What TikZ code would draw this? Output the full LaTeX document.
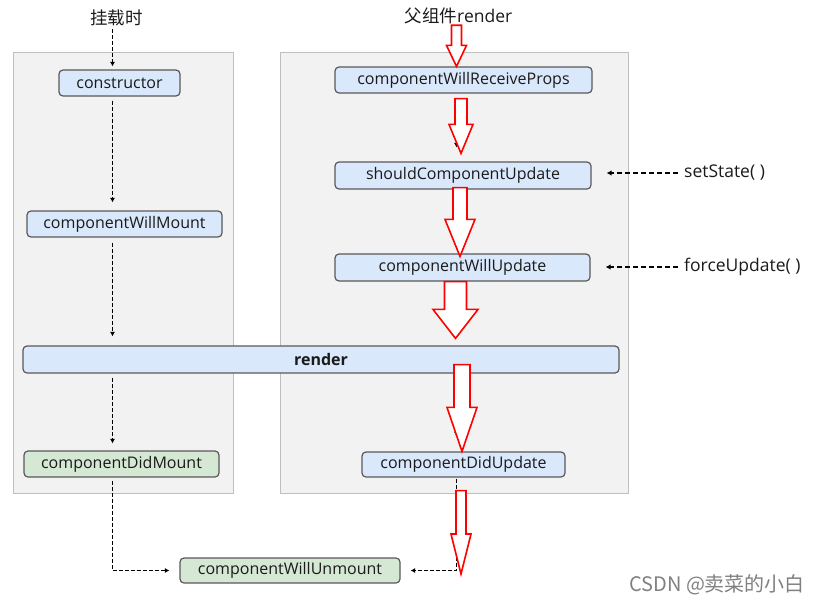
\documentclass[tikz,border=0pt]{standalone}
\usepackage{fontspec}
\setmainfont{Open Sans}
\newfontfamily\cjk{Noto Sans CJK SC}
\usetikzlibrary{calc,arrows.meta}

\definecolor{panelgray}{HTML}{F2F2F2}
\definecolor{paneledge}{HTML}{BFBFBF}
\definecolor{boxblue}{HTML}{DAE8FC}
\definecolor{boxgreen}{HTML}{D5E8D4}
\definecolor{boxedge}{HTML}{595959}
\definecolor{inktext}{HTML}{1A1A1A}

\tikzset{
  panel/.style={rectangle, draw=paneledge, fill=panelgray, line width=1pt},
  hook/.style={rectangle, rounded corners=4pt, draw=boxedge, line width=1.2pt, fill=boxblue, text=inktext, font=\fontsize{16}{19}\selectfont, inner sep=0pt},
  hookdone/.style={hook, fill=boxgreen},
  caption/.style={text=inktext, font=\fontsize{17.5}{21}\selectfont, inner sep=1pt},
  dasharr/.style={line width=1.9pt, dash pattern=on 4pt off 2pt, -{Latex[length=4.5pt,width=5pt]}},
  callarr/.style={line width=1.5pt, dash pattern=on 5pt off 3pt, -{Latex[length=5pt,width=5.5pt]}},
  fatarrow/.style={draw=red, fill=white, line width=1.6pt, line join=miter},
}

\begin{document}
\begin{tikzpicture}[x=1pt, y=-1pt]

%\draw[help lines, step=50] (0,0) grid (822,605);
\useasboundingbox (0,0) rectangle (822,605);

\node (Mount) at (123, 272.5) [panel, minimum width=220pt, minimum height=441pt] {};
\node (Update) at (454, 272.5) [panel, minimum width=348pt, minimum height=441pt] {};

\node (mount) at (116.5, 17.5) [caption] {\cjk 挂载时};
\node (parent) at (458.5, 16) [caption] {{\cjk 父组件}render};
\node (setstate) at (683, 173) [caption, anchor=west] {setState( )};
\node (forceup) at (683, 267) [caption, anchor=west] {forceUpdate( )};

\coordinate (lx) at (112.5, 0);
\coordinate (rx) at (456.5, 0);

\node (ctor) at (119.5, 83) [hook, minimum width=121pt, minimum height=26pt] {constructor};
\node (will-mount) at (124.5, 224) [hook, minimum width=195pt, minimum height=26pt] {componentWillMount};
\node (render) at (321, 359.5) [hook, minimum width=596pt, minimum height=27pt, font=\fontsize{16}{19}\selectfont\bfseries] {render};
\node (did-mount) at (121.5, 464) [hookdone, minimum width=195pt, minimum height=26pt] {componentDidMount};

\node (recv) at (463.5, 80) [hook, minimum width=257pt, minimum height=26pt] {componentWillReceiveProps};
\node (should) at (463, 175.5) [hook, minimum width=256pt, minimum height=27pt] {shouldComponentUpdate};
\node (will-up) at (462.5, 267.5) [hook, minimum width=255pt, minimum height=27pt] {componentWillUpdate};
\node (did-up) at (463.5, 464.5) [hook, minimum width=203pt, minimum height=25pt] {componentDidUpdate};

\node (unmount) at (290, 570.5) [hookdone, minimum width=220pt, minimum height=25pt] {componentWillUnmount};

\draw[dasharr, shorten <=2pt, shorten >=3pt] (mount.south -| lx) -- (ctor.north -| lx);
\draw[dasharr, shorten <=4pt, shorten >=8pt] (ctor.south -| lx) -- (will-mount.north -| lx);
\draw[dasharr, shorten <=5pt, shorten >=9pt] (will-mount.south -| lx) -- (render.north -| lx);
\draw[dasharr, shorten <=4pt, shorten >=7pt] (render.south -| lx) -- (did-mount.north -| lx);
\draw[dasharr, shorten <=3pt, shorten >=10pt] (did-mount.south -| lx) |- (unmount.west);

\draw[dasharr, shorten <=4pt, shorten >=14pt] (recv.south -| rx) -- (should.north -| rx);
\draw[dasharr, shorten <=4pt, shorten >=15pt] (render.south -| rx) -- (did-up.north -| rx);
\draw[dasharr, shorten <=1pt, shorten >=10pt] (did-up.south -| rx) |- (unmount.east);

\draw[callarr, shorten <=5pt, shorten >=15pt] (setstate.west) -- (setstate.west -| should.east);
\draw[callarr, shorten <=5pt, shorten >=15pt] (forceup.west) -- (forceup.west -| will-up.east);

\newcommand{\FatArrow}[5]{
	\draw[fatarrow] let \p1=#1, \p2=#2 in
		(\x1-#3,\y1) -- (\x1-#3,\y2+#5) -- (\x1-#4,\y2+#5) -- (\x1,\y2)
		-- (\x1+#4,\y2+#5) -- (\x1+#3,\y2+#5) -- (\x1+#3,\y1) -- cycle;
}
\FatArrow{($(parent.south)+(-2,0)$)}{(recv.north)}{5pt}{10pt}{21pt}
\FatArrow{($(recv.south)+(-2.5,5)$)}{($(should.north)+(0,-8)$)}{6pt}{12pt}{29pt}
\FatArrow{($(should.south)+(-3,-2)$)}{($(will-up.north)+(0,3)$)}{7pt}{15pt}{37pt}
\FatArrow{($(will-up.south)+(-7,0)$)}{($(render.north)+(0,-7)$)}{11pt}{22.5pt}{29pt}
\FatArrow{($(did-up.north |- render.south)+(-1.5,-9)$)}{(did-up.north)}{8pt}{15pt}{44pt}
\FatArrow{($(did-up.south)+(-2.5,13)$)}{($(unmount.east)+(0,3.5)$)}{5pt}{10pt}{40pt}

\node (mark) at (629, 585) [anchor=west, text=gray, font=\cjk\fontsize{20}{24}\selectfont, inner sep=0pt] {CSDN @卖菜的小白};

\end{tikzpicture}
\end{document}
